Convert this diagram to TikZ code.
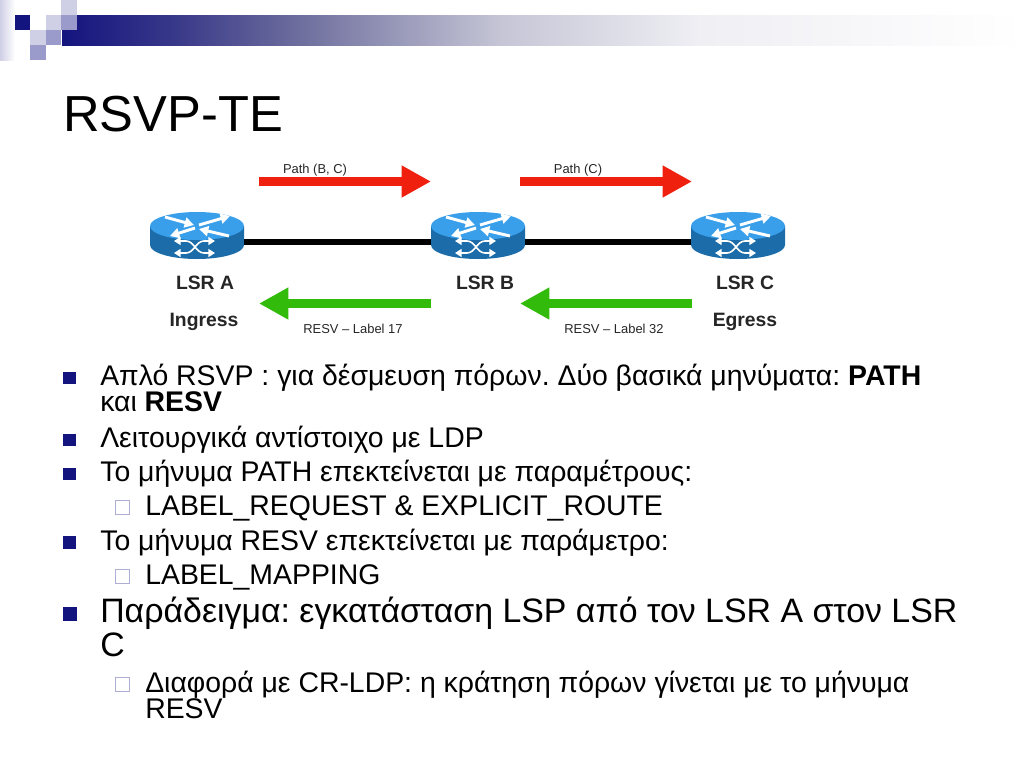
\documentclass[tikz,border=0pt]{standalone}
\usepackage{fontspec}
\setmainfont{Liberation Sans}
\usetikzlibrary{arrows.meta,shapes.geometric}
\definecolor{navy}{HTML}{14147F}
\definecolor{lav}{HTML}{CFCFE6}
\definecolor{midlav}{HTML}{9A9ACB}
\definecolor{bandA}{HTML}{3A3A8A}
\definecolor{bandB}{HTML}{6E6E9E}
\definecolor{bandC}{HTML}{C5C5D6}
\definecolor{bandD}{HTML}{EFEFF4}
\definecolor{rtop}{HTML}{3A9FEA}
\definecolor{rside}{HTML}{1B6CA8}
\definecolor{pathred}{HTML}{F0200F}
\definecolor{resvgreen}{HTML}{33BB0B}
\tikzset{x=0.75pt,y=-0.75pt,
 routerbox/.style={minimum width=70.5pt,minimum height=10pt,inner sep=0pt,outer sep=0pt},
 link/.style={line width=4.5pt,black},
 pathar/.style={line width=7pt,pathred,-{Triangle[length=22pt,width=22.5pt]}},
 resvar/.style={line width=7pt,resvgreen,-{Triangle[length=22pt,width=22.5pt]}},
 small/.style={font=\fontsize{9.7}{11}\selectfont,text=black!85,inner sep=0pt,anchor=base},
 lsr/.style={font=\bfseries\fontsize{14.5}{16}\selectfont,text=black!85,inner sep=0pt,anchor=base},
 body/.style={font=\fontsize{21.3}{24}\selectfont\frenchspacing,inner sep=0pt,anchor=base west},
 bodybig/.style={font=\fontsize{25.4}{28}\selectfont\frenchspacing,inner sep=0pt,anchor=base west},
 bul/.style={fill=navy,draw=none,minimum size=9.5pt,inner sep=0pt},
 subbul/.style={fill=white,draw=midlav!80,line width=0.7pt,minimum size=10.5pt,inner sep=0pt},
 wht/.style={white,line width=2.2pt,-{Triangle[length=7pt,width=7.5pt]}},
 whts/.style={white,line width=1.1pt,-{Triangle[length=5pt,width=6pt]}},
}
\newcommand{\routericon}[3]{% name, cx, label
 \begin{scope}[shift={(#2,226)}]
 \fill[rside] (-47,0) -- (-47,19) arc[start angle=180,end angle=360,x radius=35.25pt,y radius=10.5pt] -- (47,0) -- cycle;
 \fill[rtop] (0,0) ellipse[x radius=35.25pt,y radius=10.5pt];
 \draw[wht] (-32,-9) -- (-3,-1);
 \draw[wht] (2,-1) -- (33,-10);
 \draw[wht] (-2,2) -- (-27,10);
 \draw[wht] (32,10) -- (2,3);
 \draw[white,line width=1.2pt] (-11,15) .. controls (-3,15) and (-1,27) .. (7,27);
 \draw[white,line width=1.2pt] (-11,27) .. controls (-3,27) and (-1,15) .. (7,15);
 \draw[whts] (-11,15) -- (-23,15);
 \draw[whts] (-11,27) -- (-23,27);
 \draw[whts] (7,15) -- (18,15);
 \draw[whts] (7,27) -- (18,27);
 \end{scope}
 \node[routerbox] (#1) at (#2,242) {};
}
\begin{document}
\begin{tikzpicture}
\useasboundingbox (0,0) rectangle (1024,768);
\fill[white] (0,0) rectangle (1024,768);
% header band
\shade[left color=bandD,right color=white] (699.5,15) rectangle (1024,45);
\shade[left color=bandC,right color=bandD] (499.5,15) rectangle (700,45);
\shade[left color=bandB,right color=bandC] (299.5,15) rectangle (500,45);
\shade[left color=bandA,right color=bandB] (179.5,15) rectangle (300,45);
\shade[left color=navy,right color=bandA] (62,15) rectangle (180,45);
\shade[left color=lav,right color=white] (0,0) rectangle (15,60);
\fill[white] (15,0) rectangle (61,15);
\fill[white] (15,30) rectangle (30,60);
\fill[white] (30,15) rectangle (46,30);
\fill[navy] (15,15) rectangle (30,30);
\fill[lav] (46,15) rectangle (61,30);
\fill[midlav] (61,15) rectangle (77,30);
\fill[lav] (61,0) rectangle (77,15);
\fill[lav] (30,30) rectangle (46,45);
\fill[midlav] (46,30) rectangle (61,45);
\fill[midlav] (30,45) rectangle (46,60);
% title
\node[font=\fontsize{38}{42}\selectfont,inner sep=0pt,anchor=base west] (title) at (63,131) {RSVP-TE};
% routers
\routericon{ra}{197}{}
\routericon{rb}{478}{}
\routericon{rc}{738}{}
\draw[link] (ra.east) -- (rb.west);
\draw[link] (rb.east) -- (rc.west);
\node[lsr] (la) at (205,289) {LSR A};
\node[lsr] (lb) at (485,289) {LSR B};
\node[lsr] (lc) at (745,289) {LSR C};
\node[lsr] (ing) at (204,326) {Ingress};
\node[lsr] (egr) at (745,326) {Egress};
% arrows
\coordinate (p1s) at (259,181.5); \coordinate (p1e) at (431,181.5);
\coordinate (p2s) at (520,181.5); \coordinate (p2e) at (692,181.5);
\coordinate (r1s) at (431,303.5); \coordinate (r1e) at (259,303.5);
\coordinate (r2s) at (692,303.5); \coordinate (r2e) at (520,303.5);
\draw[pathar] (p1s) -- (p1e);
\draw[pathar] (p2s) -- (p2e);
\draw[resvar] (r1s) -- (r1e);
\draw[resvar] (r2s) -- (r2e);
\node[small] (pl1) at (315,173) {Path (B, C)};
\node[small] (pl2) at (578,173) {Path (C)};
\node[small] (rl1) at (353,333) {RESV – Label 17};
\node[small] (rl2) at (614,333) {RESV – Label 32};
% text
\node[bul] (b1) at (69.5,378) {};
\node[body] (t1) at (100,385) {Απλό RSVP : για δέσμευση πόρων. Δύο βασικά μηνύματα: \textbf{PATH}};
\node[body] (t1b) at (100,411) {και \textbf{RESV}};
\node[bul] (b2) at (69.5,440) {};
\node[body] (t2) at (100,447) {Λειτουργικά αντίστοιχο με LDP};
\node[bul] (b3) at (69.5,474) {};
\node[body] (t3) at (100,481) {Το μήνυμα PATH επεκτείνεται με παραμέτρους:};
\node[subbul] (s1) at (122.5,507.5) {};
\node[body] (t4) at (145,515) {LABEL\_REQUEST \& EXPLICIT\_ROUTE};
\node[bul] (b4) at (69.5,542.5) {};
\node[body] (t5) at (100,550) {Το μήνυμα RESV επεκτείνεται με παράμετρο:};
\node[subbul] (s2) at (122.5,576.5) {};
\node[body] (t6) at (145,584) {LABEL\_MAPPING};
\node[bul,minimum size=11pt] (b5) at (70,614) {};
\node[bodybig] (t7) at (100,622) {Παράδειγμα: εγκατάσταση LSP από τον LSR A στον LSR};
\node[bodybig] (t7b) at (100,656) {C};
\node[subbul] (s3) at (122.5,684.5) {};
\node[body] (t8) at (145,692) {Διαφορά με CR-LDP: η κράτηση πόρων γίνεται με το μήνυμα};
\node[body] (t8b) at (145,718) {RESV};
\end{tikzpicture}
\end{document}
